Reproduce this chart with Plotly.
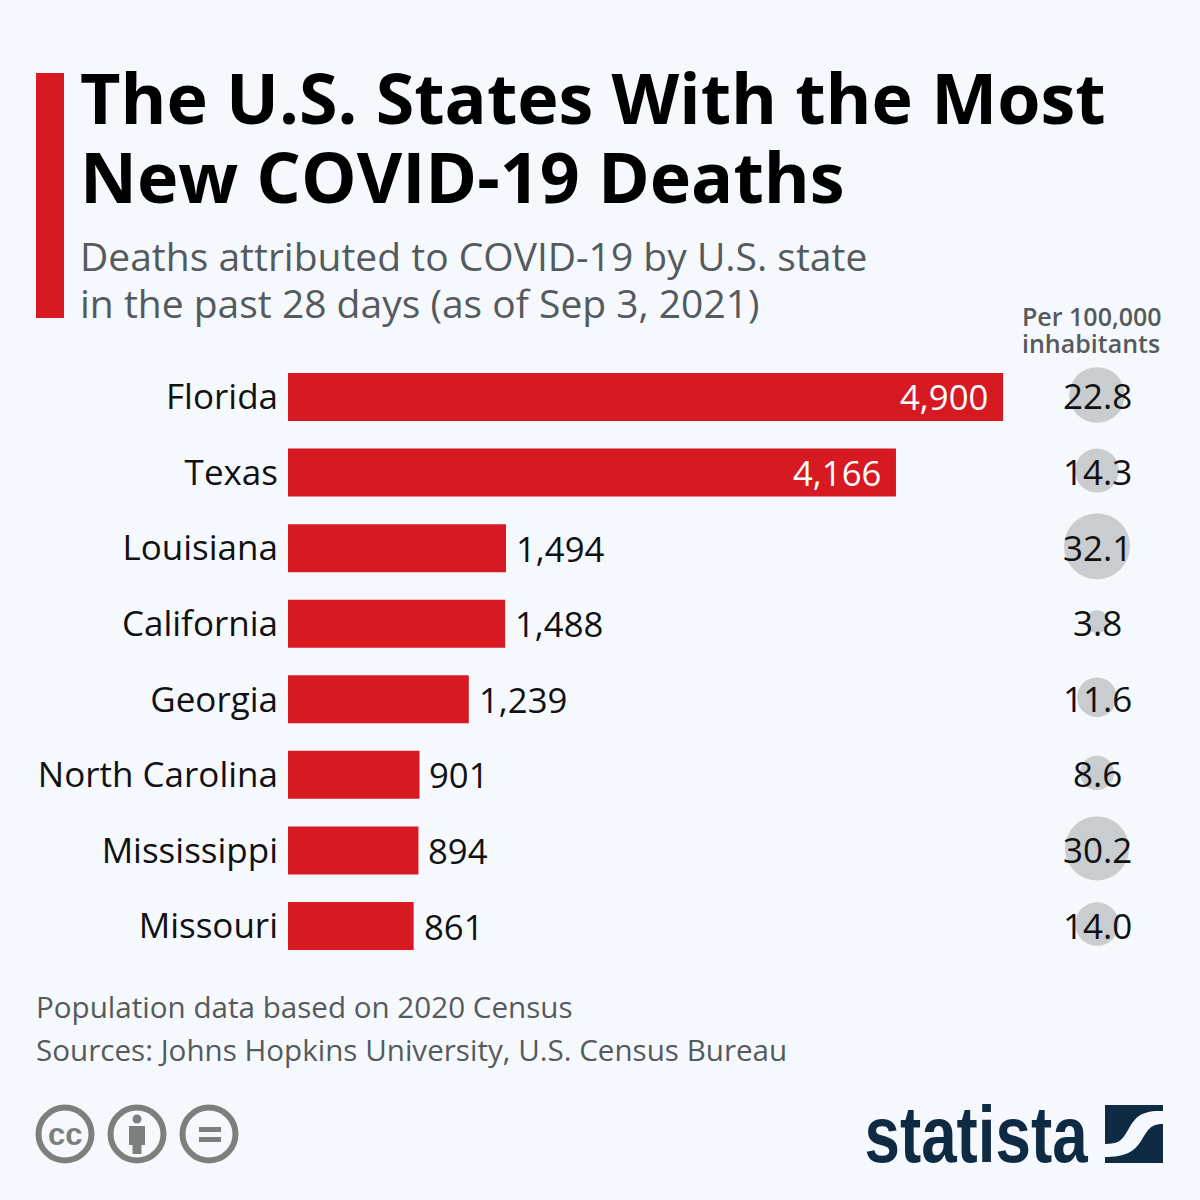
import plotly.graph_objects as go

# Data
states = ['Florida', 'Texas', 'Louisiana', 'California', 'Georgia',
          'North Carolina', 'Mississippi', 'Missouri']
deaths = [4900, 4166, 1494, 1488, 1239, 901, 894, 861]
per_100k = [22.8, 14.3, 32.1, 3.8, 11.6, 8.6, 30.2, 14.0]

title_lines = ['The U.S. States With the Most', 'New COVID-19 Deaths']
subtitle_lines = ['Deaths attributed to COVID-19 by U.S. state',
                  'in the past 28 days (as of Sep 3, 2021)']
footer_lines = ['Population data based on 2020 Census',
                'Sources: Johns Hopkins University, U.S. Census Bureau']

RED = '#d71921'
BG = '#f5f9fd'
GRAY = '#c9cdd0'
ICON = '#7c807d'
NAVY = '#0f2a43'
FONT = 'Open Sans'
W = H = 1200


def px(x):
    return x / W


def py(y):
    return 1 - y / H


def pixel_text(x, y, text, size, color, anchor='left', bold=False, family=FONT, weight=None):
    font = dict(size=size, color=color, family=family)
    if weight:
        font['weight'] = weight
    return dict(x=px(x), y=py(y), xref='paper', yref='paper', text=f'<b>{text}</b>' if bold else text,
                showarrow=False, xanchor=anchor, yanchor='middle', font=font)


def pixel_rect(x0, y0, x1, y1, color):
    return dict(type='rect', xref='paper', yref='paper', x0=px(x0), x1=px(x1), y0=py(y0), y1=py(y1),
                fillcolor=color, line_width=0, layer='below')


def pixel_ring(cx, cy, r, color, width=0):
    return dict(type='circle', xref='paper', yref='paper', x0=px(cx - r), x1=px(cx + r),
                y0=py(cy - r), y1=py(cy + r),
                fillcolor=color if not width else 'rgba(0,0,0,0)',
                line=dict(color=color, width=width), layer='below')


def pixel_path(parts, color):
    # parts is a list of ('M', x, y) or ('C', x1, y1, x2, y2, x, y) style commands
    out = ''
    for p in parts:
        nums = p[1:]
        coords = [f'{px(nums[i])},{py(nums[i + 1])}' for i in range(0, len(nums), 2)]
        out += p[0] + ' ' + ' '.join(coords) + ' '
    return dict(type='path', xref='paper', yref='paper', path=out + 'Z',
                fillcolor=color, line_width=0, layer='below')


fig = go.Figure()

fig.add_trace(go.Bar(x=deaths, y=states, orientation='h', marker=dict(color=RED, line_width=0),
                     xaxis='x', yaxis='y', hoverinfo='skip'))

# bubbles sit on their own y axis, two pixels above the bar rows
fig.add_trace(go.Scatter(x=[0] * len(states), y=states, mode='markers', cliponaxis=False,
                         marker=dict(size=per_100k, sizemode='area', sizeref=0.01474,
                                     color=GRAY, opacity=1, line_width=0),
                         xaxis='x2', yaxis='y2', hoverinfo='skip'))

annotations = []

# value labels, inside the long bars and outside the others
for state, value in zip(states, deaths):
    inside = value > 3000
    annotations.append(dict(x=value, y=state, xref='x', yref='y', text=f'{value:,}', showarrow=False,
                            xanchor='right' if inside else 'left', xshift=-13 if inside else 8, yshift=0,
                            font=dict(size=34.7, family=FONT, color='white' if inside else '#111111')))

# per-capita labels on the bubbles
for state, value in zip(states, per_100k):
    annotations.append(dict(x=0, y=state, xref='x2', yref='y', text=f'{value:.1f}', showarrow=False,
                            xanchor='center', yshift=1,
                            font=dict(size=35, family=FONT, color='#111111')))

for i, line in enumerate(title_lines):
    annotations.append(pixel_text(78, 97 + 79 * i, line, 70, '#000000', bold=True))
for i, line in enumerate(subtitle_lines):
    annotations.append(pixel_text(78, 255 + 48 * i, line, 39, '#555a5c'))
for i, line in enumerate(footer_lines):
    annotations.append(pixel_text(34, 1007 + 42 * i, line, 29.6, '#555a5c'))
annotations.append(pixel_text(1020, 316, 'Per 100,000', 25, '#555a5c', weight=600))
annotations.append(pixel_text(1020, 343, 'inhabitants', 25, '#555a5c', weight=600))

annotations.append(pixel_text(65, 1134, 'cc', 31, ICON, anchor='center', bold=True, family='Liberation Sans'))
annotations.append(pixel_text(976, 1134, 'statista', 80, NAVY, anchor='center', bold=True,
                              family='Liberation Sans'))

shapes = [
    pixel_rect(36, 73, 64, 318, RED),
    # licence icons
    pixel_ring(65, 1134, 26.5, ICON, width=6),
    pixel_ring(137, 1134, 26.5, ICON, width=6),
    pixel_ring(209, 1134, 26.5, ICON, width=6),
    pixel_ring(137, 1119, 4.5, ICON),
    pixel_rect(129, 1126, 145, 1145, ICON),
    pixel_rect(132.5, 1145, 141.5, 1154, ICON),
    pixel_rect(199, 1127, 221, 1132, ICON),
    pixel_rect(199, 1137, 221, 1142, ICON),
    # logo mark
    pixel_path([('M', 1105, 1105), ('L', 1163, 1105), ('L', 1163, 1111),
                ('C', 1140, 1110, 1135, 1118, 1128, 1130),
                ('C', 1122, 1141, 1118, 1144, 1105, 1144)], NAVY),
    pixel_path([('M', 1163, 1124), ('L', 1163, 1163), ('L', 1105, 1163), ('L', 1105, 1157),
                ('C', 1125, 1157, 1134, 1152, 1141, 1141),
                ('C', 1148, 1130, 1150, 1124, 1163, 1124)], NAVY),
]

fig.update_layout(
    width=W, height=H, margin=dict(l=0, r=0, t=0, b=0),
    paper_bgcolor=BG, plot_bgcolor='rgba(0,0,0,0)',
    showlegend=False, bargap=0.365,
    font=dict(family=FONT),
    xaxis=dict(domain=[288 / W, 1020 / W], range=[0, 5016], visible=False, fixedrange=True),
    xaxis2=dict(domain=[1060 / W, 1134 / W], range=[-1, 1], visible=False, fixedrange=True),
    yaxis=dict(domain=[1 - 963.8 / H, 1 - 359.2 / H], type='category', categoryorder='array',
               categoryarray=states, range=[7.5, -0.5], showgrid=False, zeroline=False, showline=False,
               ticks='', ticklabelstandoff=9, tickfont=dict(size=35, family=FONT, color='#111111'),
               anchor='x', fixedrange=True),
    yaxis2=dict(domain=[1 - 961.8 / H, 1 - 357.2 / H], type='category', categoryorder='array',
                categoryarray=states, range=[7.5, -0.5], visible=False, anchor='x2', fixedrange=True),
    shapes=shapes,
    annotations=annotations,
)

# drop the default page margin and squeeze the logo word to its condensed width
post = """
document.body.style.margin = '0';
document.body.style.background = '%s';
document.querySelectorAll('.annotation-text').forEach(function (t) {
    if (t.textContent === 'statista') {
        t.setAttribute('textLength', '223');
        t.setAttribute('lengthAdjust', 'spacingAndGlyphs');
    }
});
""" % BG

fig.write_html("out.html", post_script=post, config={'displayModeBar': False})
